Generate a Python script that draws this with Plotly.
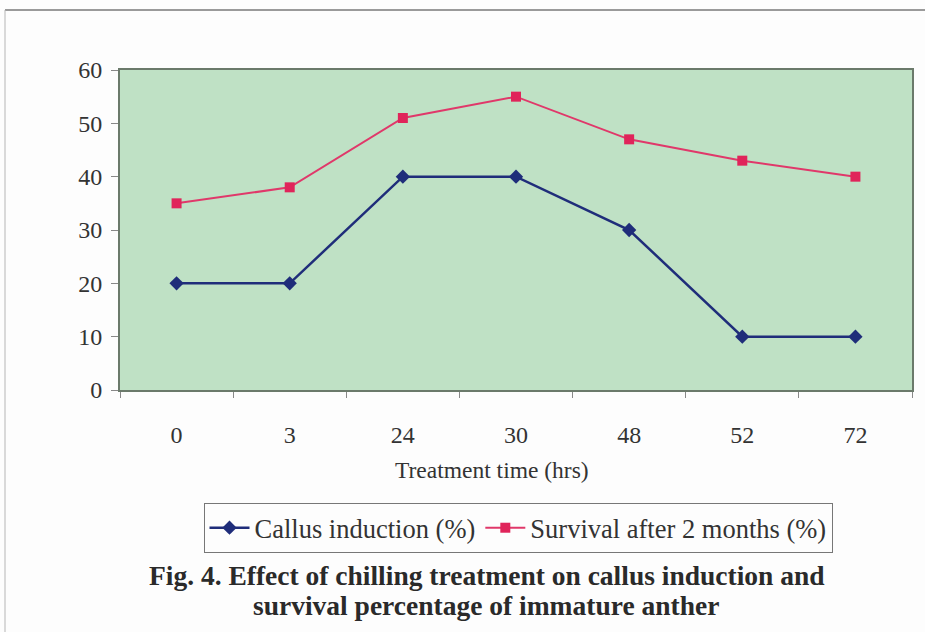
import plotly.graph_objects as go

categories = ["0", "3", "24", "30", "48", "52", "72"]
callus = [20, 20, 40, 40, 30, 10, 10]
survival = [35, 38, 51, 55, 47, 43, 40]
y_ticks = [0, 10, 20, 30, 40, 50, 60]

serif = "Liberation Serif"
W, H = 925, 632
L, R, T, B = 120, 13, 70, 242
pw, ph = W - L - R, H - T - B

def px(x):
    return (x - L) / pw

def py(y):
    return (H - B - y) / ph

fig = go.Figure()
fig.add_trace(go.Scatter(
    x=categories, y=callus, name="Callus induction (%)",
    mode="lines+markers",
    line=dict(color="#1f2d7a", width=2.5),
    marker=dict(symbol="diamond", size=11, color="#1f2d7a"),
))
fig.add_trace(go.Scatter(
    x=categories, y=survival, name="Survival after 2 months (%)",
    mode="lines+markers",
    line=dict(color="#e0386a", width=2),
    marker=dict(symbol="square", size=10, color="#e0245a"),
))

fig.update_layout(
    width=W, height=H,
    margin=dict(l=L, r=R, t=T, b=B),
    paper_bgcolor="#fdfdfd",
    plot_bgcolor="#bfe1c5",
    font=dict(family=serif, size=22, color="#333333"),
    showlegend=True,
    legend=dict(
        orientation="h", x=px(518), xanchor="center", y=py(503), yanchor="top",
        bordercolor="#777777", borderwidth=1, bgcolor="#fdfdfd",
        font=dict(family=serif, size=26.5, color="#333333"),
        itemwidth=40, tracegroupgap=0,
    ),
    xaxis=dict(
        type="category", range=[-0.5, 6.5], tickson="boundaries", ticks="outside", ticklen=6,
        tickcolor="#888888", showgrid=False, zeroline=False,
        showline=True, linecolor="#6b7a6b", linewidth=2, mirror=True,
        ticklabelstandoff=22, tickfont=dict(size=24, color="#333333"),
    ),
    yaxis=dict(
        range=[0, 60], tickvals=y_ticks, ticks="outside", ticklen=7,
        tickcolor="#888888", showgrid=False, zeroline=False,
        showline=True, linecolor="#6b7a6b", linewidth=2, mirror=True,
        ticklabelstandoff=4, tickfont=dict(size=24, color="#333333"),
    ),
    annotations=[
        dict(text="Treatment time (hrs)", x=px(492), y=py(470), xref="paper", yref="paper",
             xanchor="center", yanchor="middle", showarrow=False,
             font=dict(family=serif, size=23.5, color="#333333")),
        dict(text="<b>Fig. 4. Effect of chilling treatment on callus induction and</b>",
             x=px(487), y=py(575), xref="paper", yref="paper",
             xanchor="center", yanchor="middle", showarrow=False,
             font=dict(family=serif, size=27.5, color="#2a2a2a")),
        dict(text="<b>survival percentage of immature anther</b>",
             x=px(486), y=py(605), xref="paper", yref="paper",
             xanchor="center", yanchor="middle", showarrow=False,
             font=dict(family=serif, size=27.5, color="#2a2a2a")),
    ],
    shapes=[
        dict(type="line", xref="paper", yref="paper", x0=px(5), x1=px(925), y0=py(10), y1=py(10),
             line=dict(color="#9a9a9a", width=2)),
        dict(type="line", xref="paper", yref="paper", x0=px(5), x1=px(5), y0=py(10), y1=py(632),
             line=dict(color="#b5b5b5", width=1)),
    ],
)

fig.write_html("out.html")
